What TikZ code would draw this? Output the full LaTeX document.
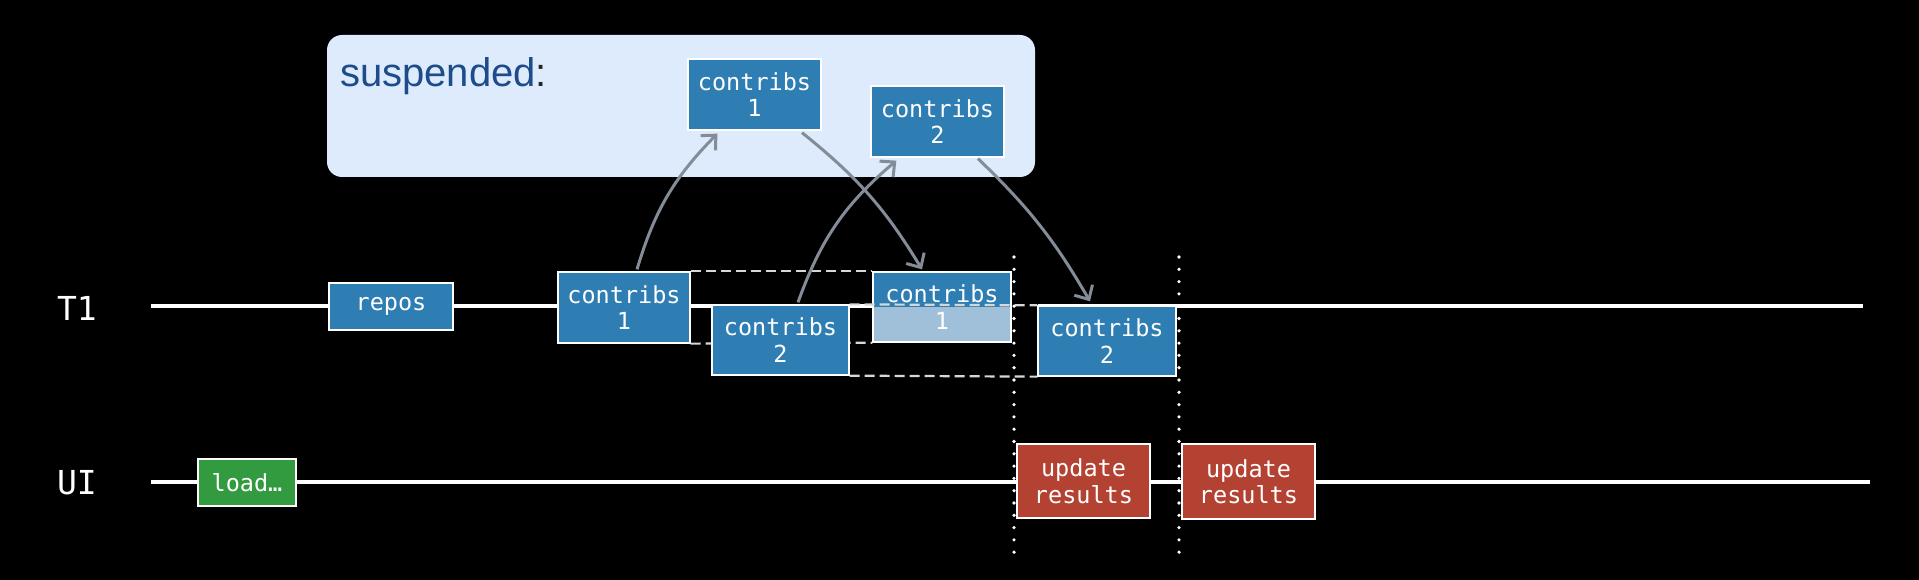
\documentclass[tikz,border=0pt]{standalone}
\usepackage{fontspec}
\setmainfont{Liberation Sans}
\newfontfamily\monofam{DejaVu Sans Mono}
\usetikzlibrary{arrows.meta,calc}
\definecolor{boxblue}{RGB}{46,125,179}
\definecolor{lightpart}{RGB}{160,191,217}
\definecolor{ured}{RGB}{180,66,50}
\definecolor{lgreen}{RGB}{50,155,64}
\definecolor{panelbg}{RGB}{221,235,252}
\definecolor{sustext}{RGB}{30,76,138}
\definecolor{arrowgray}{RGB}{132,140,152}
\definecolor{dashgray}{RGB}{215,215,215}
\begin{document}
\begin{tikzpicture}[x=1pt,y=-1pt,
  tbox/.style={draw=white, line width=1.3pt, inner sep=0pt, align=center, text=white,
    font=\monofam\fontsize{23.5}{26.5}\selectfont},
  bluebox/.style={tbox, fill=boxblue},
  redbox/.style={tbox, fill=ured},
  greenbox/.style={tbox, fill=lgreen},
  tline/.style={draw=white, line width=3.3pt},
  dsh/.style={draw=dashgray, line width=2.2pt, dash pattern=on 10pt off 5pt},
  dotl/.style={draw=white, line width=3.6pt, line cap=round, dash pattern=on 0pt off 12.3pt},
  arr/.style={draw=arrowgray, line width=3pt, -{Straight Barb[length=11pt,width=21pt]}},
  lane/.style={text=white, font=\monofam\fontsize{33}{36}\selectfont, inner sep=0pt}
]
\fill[black] (0,0) rectangle (1919,580);
\useasboundingbox (0,0) rectangle (1919,580);

% suspended panel
\fill[panelbg, rounded corners=15pt] (327,35) rectangle (1035,177);
\node[anchor=base west, inner sep=0pt, font=\fontsize{40}{44}\selectfont] (susp) at (340,87)
  {\textcolor{sustext}{suspended}\textcolor{black!85}{:}};

% lane labels
\node[lane] (t1) at (77,308) {T1};
\node[lane] (ui) at (77,483) {UI};

% coordinates for timelines
\coordinate (t1s) at (151,306);
\coordinate (t1e) at (1863,306);
\coordinate (uis) at (151,482);
\coordinate (uie) at (1870,482);
\coordinate (t1gapA) at (1011,306);
\coordinate (t1gapB) at (1038,306);

\draw[tline] (t1s) -- (t1gapA);
\draw[tline] (t1gapB) -- (t1e);
\draw[tline] (uis) -- (uie);

% boxes
\node[bluebox, minimum width=124pt, minimum height=47pt] (repos) at (391,306.5) {repos};
\node[greenbox, minimum width=98pt, minimum height=47pt] (load) at (247,482.5) {load…};

\node[bluebox, minimum width=132pt, minimum height=71pt] (c1) at (624,307.5) {contribs\\1};
\node[bluebox, minimum width=138pt, minimum height=70pt,
  path picture={\fill[lightpart] (path picture bounding box.west) rectangle (path picture bounding box.south east);}]
  (c1b) at (942,307) {contribs\\1};

% dashed outline of contribs 1 (behind contribs 2)
\draw[dsh] (c1.north east) -- (c1b.north west);
\draw[dsh] (c1.south east) -- (c1b.south west);

\node[bluebox, minimum width=137pt, minimum height=70pt] (c2) at (780.5,340) {contribs\\2};
\node[bluebox, minimum width=138pt, minimum height=70pt] (c2b) at (1107,341) {contribs\\2};

% dashed outline of contribs 2
\draw[dsh] (c2.north east) -- (c2b.north west);
\draw[dsh] (c2.south east) -- (c2b.south west);

% suspended boxes
\node[bluebox, minimum width=133pt, minimum height=71pt] (s1) at (754.5,94.5) {contribs\\1};
\node[bluebox, minimum width=133pt, minimum height=71pt] (s2) at (937.5,121.5) {contribs\\2};

% update results
\node[redbox, minimum width=133pt, minimum height=74pt] (u1) at (1083.5,481) {update\\results};
\node[redbox, minimum width=133pt, minimum height=75pt] (u2) at (1248.5,481.5) {update\\results};

% arrows
\draw[arr] ([xshift=13pt,yshift=2pt]c1.north) to[bend left=14] ([xshift=30pt,yshift=-3pt]s1.south west);
\draw[arr] ([xshift=47.5pt,yshift=-2pt]s1.south) to[bend left=10] ([xshift=-20pt,yshift=2pt]c1b.north);
\draw[arr] ([xshift=17.5pt,yshift=2pt]c2.north) to[bend left=15] ([xshift=26pt,yshift=-3pt]s2.south west);
\draw[arr] ([xshift=40.5pt,yshift=-1pt]s2.south) to[bend left=8] ([xshift=-17pt,yshift=4pt]c2b.north);

% dotted separators
\coordinate (d1t) at (1014,257);
\coordinate (d1b) at (1014,556);
\coordinate (d2t) at (1179,257);
\coordinate (d2b) at (1179,556);
\draw[dotl] (d1t) -- (d1b);
\draw[dotl] (d2t) -- (d2b);
\end{tikzpicture}
\end{document}
